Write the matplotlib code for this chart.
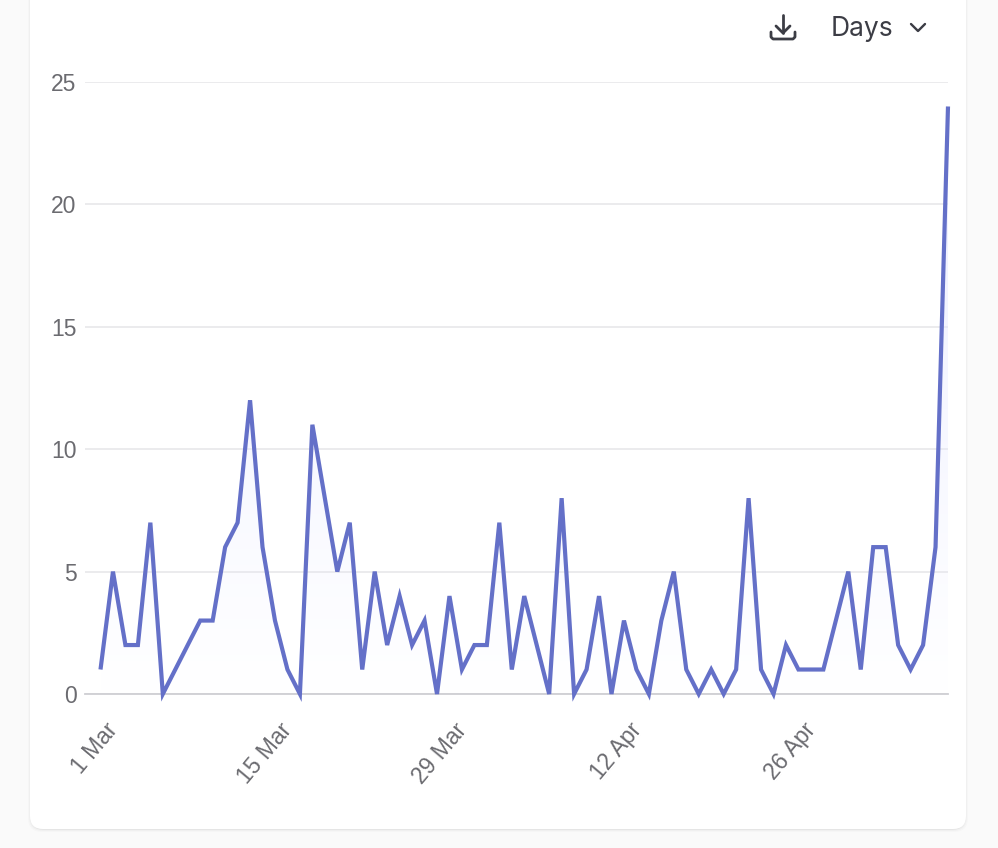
import numpy as np
import matplotlib
matplotlib.use('Agg')
import matplotlib.pyplot as plt
from matplotlib.patches import FancyBboxPatch, Polygon
from matplotlib.transforms import ScaledTranslation

W, H = 998, 848

# Daily counts
values = [1, 5, 2, 2, 7, 0, 1, 2, 3, 3, 6, 7, 12, 6, 3, 1, 0, 11, 8, 5, 7, 1, 5, 2, 4,
          2, 3, 0, 4, 1, 2, 2, 7, 1, 4, 2, 0, 8, 0, 1, 4, 0, 3, 1, 0, 3, 5, 1, 0, 1,
          0, 1, 8, 1, 0, 2, 1, 1, 1, 3, 5, 1, 6, 6, 2, 1, 2, 6, 24]
days = np.arange(len(values))
xtick_pos = [1, 15, 29, 43, 57]
xtick_labels = ['1 Mar', '15 Mar', '29 Mar', '12 Apr', '26 Apr']
yticks = [0, 5, 10, 15, 20, 25]

LINE = '#6470c8'
GREY = '#6b6b70'

fig = plt.figure(figsize=(W / 100, H / 100), dpi=100, facecolor='#fafafa')

# page overlay in pixel coordinates, y going down
bg = fig.add_axes([0, 0, 1, 1])
bg.set_xlim(0, W)
bg.set_ylim(H, 0)
bg.axis('off')
for i, a in enumerate([0.015, 0.025, 0.045]):
    bg.add_patch(FancyBboxPatch((30 - 2 + i, -40), 936 + 4 - 2 * i, 869 + 3 - i,
                                boxstyle='round,pad=0,rounding_size=14', fc='k', ec='none', alpha=a))
bg.add_patch(FancyBboxPatch((30, -40), 936, 869, boxstyle='round,pad=0,rounding_size=13',
                            fc='white', ec='none'))

# download icon
ICON = '#3c3d45'
bg.plot([783, 783], [15, 33], color=ICON, lw=2.0, solid_capstyle='round')
bg.plot([776, 783, 790], [26, 33, 26], color=ICON, lw=2.0, solid_capstyle='round', solid_joinstyle='round')
bg.plot([771, 771, 773, 793, 795, 795], [32, 37, 39, 39, 37, 32], color=ICON, lw=2.0,
        solid_capstyle='round', solid_joinstyle='round')
# dropdown chevron
bg.plot([911, 918, 925], [24, 31, 24], color=ICON, lw=1.7, solid_capstyle='round', solid_joinstyle='round')
bg.text(831, 29, 'Days', fontsize=19, family='Inter', color=ICON, va='center', ha='left')

# plot area
x0, x1, ytop, ybot = 85, 948, 82, 694
ax = fig.add_axes([x0 / W, 1 - ybot / H, (x1 - x0) / W, (ybot - ytop) / H])
ax.patch.set_alpha(0)
step = (948 - 100.5) / 68

# pale fill under the line, fading out downward
rgba = np.ones((256, 1, 4))
rgba[..., 0] = 0.90
rgba[..., 1] = 0.91
rgba[..., 2] = 1.0
rgba[..., 3] = 0.75 * np.linspace(1, 0, 256).reshape(-1, 1)
im = ax.imshow(rgba, extent=[0, 68, 0, 25], aspect='auto', zorder=1, interpolation='bilinear')
ax.set_xlim(-(100.5 - x0) / step, 68)
ax.set_ylim(0, 25)
poly = Polygon(np.column_stack([np.r_[days, 68, 0], np.r_[values, 0, 0]]), transform=ax.transData,
               fc='none', ec='none')
ax.add_patch(poly)
im.set_clip_path(poly)

ax.grid(axis='y', color='#e9e9ec', lw=1.3, zorder=0)
ax.set_axisbelow(True)
ax.plot(days, values, color=LINE, lw=3.0, solid_joinstyle='miter', solid_capstyle='butt',
        zorder=3, clip_on=False)

for s in ['top', 'right', 'left']:
    ax.spines[s].set_visible(False)
ax.spines['bottom'].set_color('#cfcfd3')
ax.spines['bottom'].set_linewidth(1.3)

ax.set_yticks(yticks)
ax.set_xticks(xtick_pos)
ax.set_xticklabels(xtick_labels, rotation=50, ha='right', va='top', rotation_mode='anchor')
ax.tick_params(axis='both', length=0, labelcolor=GREY)
ax.tick_params(axis='y', pad=6)
ax.tick_params(axis='x', pad=18)
shift = ScaledTranslation(-8 / 100, 0, fig.dpi_scale_trans)
for t in ax.get_xticklabels():
    t.set_transform(t.get_transform() + shift)
for t in ax.get_xticklabels() + ax.get_yticklabels():
    t.set_fontfamily('Liberation Sans')
    t.set_fontsize(16.5)

fig.savefig('out.png', dpi=100, facecolor=fig.get_facecolor())
